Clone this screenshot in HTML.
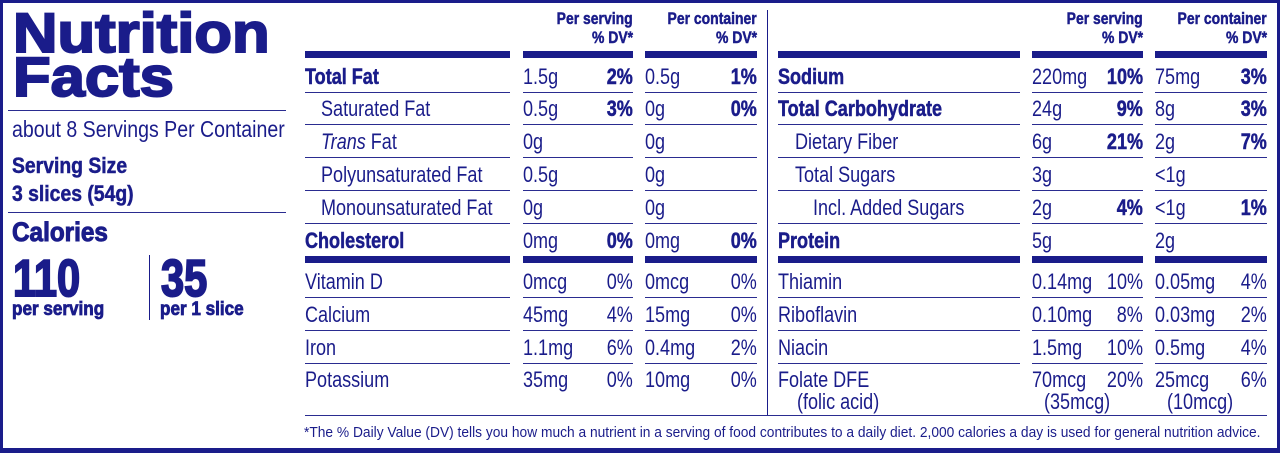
<!DOCTYPE html>
<html><head><meta charset="utf-8">
<style>
*{margin:0;padding:0;box-sizing:border-box}
body{width:1280px;height:453px;overflow:hidden;background:#fff;position:relative;font-family:"Liberation Sans",sans-serif;color:#1a1c8a}
.t{position:absolute;white-space:nowrap;line-height:1;font-size:22px;transform:scaleX(.82);transform-origin:left center}
.r{transform-origin:right center}
.b{font-weight:bold;-webkit-text-stroke:0.5px #1a1c8a}
.h{-webkit-text-stroke:2px #1a1c8a}
.l{position:absolute;height:1px;background:#2a2c90}
.k{position:absolute;height:7px;background:#1a1c8a}
</style></head><body>
<div style="position:absolute;left:0;top:0;width:1280px;height:453px;border:3px solid #1a1c8a;border-bottom-width:5px"></div>

<div class="t b h" style="left:13px;top:5px;font-size:56px;transform:scaleX(1.1)">Nutrition</div>
<div class="t b h" style="left:13px;top:49px;font-size:56px;transform:scaleX(1.1)">Facts</div>
<div class="l" style="left:8px;top:110px;width:278px"></div>
<div class="t" style="left:12px;top:118px;font-size:23px;transform:scaleX(.85)">about 8 Servings Per Container</div>
<div class="t b" style="left:12px;top:155px;font-size:22px;transform:scaleX(.88)">Serving Size</div>
<div class="t b" style="left:12px;top:183px;font-size:22px;transform:scaleX(.88)">3 slices (54g)</div>
<div class="l" style="left:8px;top:212px;width:278px"></div>
<div class="t b" style="left:12px;top:219px;font-size:27px;transform:scaleX(.9);-webkit-text-stroke:1px #1a1c8a">Calories</div>
<div class="t b h" style="left:13px;top:253px;font-size:52px;transform:scaleX(.8)">110</div>
<div class="t b" style="left:12px;top:300px;font-size:19px;transform:scaleX(.9);-webkit-text-stroke:0.8px #1a1c8a">per serving</div>
<div style="position:absolute;left:149px;top:255px;width:1px;height:65px;background:#1a1c8a"></div>
<div class="t b h" style="left:161px;top:253px;font-size:52px;transform:scaleX(.8)">35</div>
<div class="t b" style="left:160px;top:300px;font-size:19px;transform:scaleX(.9);-webkit-text-stroke:0.8px #1a1c8a">per 1 slice</div>

<!-- headers -->
<div class="t b r" style="right:647px;top:10px;font-size:17px">Per serving</div>
<div class="t b r" style="right:647px;top:29px;font-size:17px">% DV*</div>
<div class="t b r" style="right:523px;top:10px;font-size:17px">Per container</div>
<div class="t b r" style="right:523px;top:29px;font-size:17px">% DV*</div>
<div class="t b r" style="right:137px;top:10px;font-size:17px">Per serving</div>
<div class="t b r" style="right:137px;top:29px;font-size:17px">% DV*</div>
<div class="t b r" style="right:13px;top:10px;font-size:17px">Per container</div>
<div class="t b r" style="right:13px;top:29px;font-size:17px">% DV*</div>

<div style="position:absolute;left:767px;top:10px;width:1px;height:405px;background:#1a1c8a"></div>

<!-- thick bars -->
<div class="k" style="left:305px;top:51px;width:205px"></div>
<div class="k" style="left:523px;top:51px;width:110px"></div>
<div class="k" style="left:645px;top:51px;width:112px"></div>
<div class="k" style="left:778px;top:51px;width:242px"></div>
<div class="k" style="left:1032px;top:51px;width:111px"></div>
<div class="k" style="left:1155px;top:51px;width:112px"></div>
<div class="k" style="left:305px;top:256px;width:205px"></div>
<div class="k" style="left:523px;top:256px;width:110px"></div>
<div class="k" style="left:645px;top:256px;width:112px"></div>
<div class="k" style="left:778px;top:256px;width:242px"></div>
<div class="k" style="left:1032px;top:256px;width:111px"></div>
<div class="k" style="left:1155px;top:256px;width:112px"></div>

<!-- thin lines -->
<div class="l" style="left:305px;top:92px;width:205px"></div><div class="l" style="left:523px;top:92px;width:110px"></div><div class="l" style="left:645px;top:92px;width:112px"></div><div class="l" style="left:778px;top:92px;width:242px"></div><div class="l" style="left:1032px;top:92px;width:111px"></div><div class="l" style="left:1155px;top:92px;width:112px"></div>
<div class="l" style="left:305px;top:124px;width:205px"></div><div class="l" style="left:523px;top:124px;width:110px"></div><div class="l" style="left:645px;top:124px;width:112px"></div><div class="l" style="left:778px;top:124px;width:242px"></div><div class="l" style="left:1032px;top:124px;width:111px"></div><div class="l" style="left:1155px;top:124px;width:112px"></div>
<div class="l" style="left:305px;top:157px;width:205px"></div><div class="l" style="left:523px;top:157px;width:110px"></div><div class="l" style="left:645px;top:157px;width:112px"></div><div class="l" style="left:778px;top:157px;width:242px"></div><div class="l" style="left:1032px;top:157px;width:111px"></div><div class="l" style="left:1155px;top:157px;width:112px"></div>
<div class="l" style="left:305px;top:190px;width:205px"></div><div class="l" style="left:523px;top:190px;width:110px"></div><div class="l" style="left:645px;top:190px;width:112px"></div><div class="l" style="left:778px;top:190px;width:242px"></div><div class="l" style="left:1032px;top:190px;width:111px"></div><div class="l" style="left:1155px;top:190px;width:112px"></div>
<div class="l" style="left:305px;top:223px;width:205px"></div><div class="l" style="left:523px;top:223px;width:110px"></div><div class="l" style="left:645px;top:223px;width:112px"></div><div class="l" style="left:778px;top:223px;width:242px"></div><div class="l" style="left:1032px;top:223px;width:111px"></div><div class="l" style="left:1155px;top:223px;width:112px"></div>
<div class="l" style="left:305px;top:297px;width:205px"></div><div class="l" style="left:523px;top:297px;width:110px"></div><div class="l" style="left:645px;top:297px;width:112px"></div><div class="l" style="left:778px;top:297px;width:242px"></div><div class="l" style="left:1032px;top:297px;width:111px"></div><div class="l" style="left:1155px;top:297px;width:112px"></div>
<div class="l" style="left:305px;top:330px;width:205px"></div><div class="l" style="left:523px;top:330px;width:110px"></div><div class="l" style="left:645px;top:330px;width:112px"></div><div class="l" style="left:778px;top:330px;width:242px"></div><div class="l" style="left:1032px;top:330px;width:111px"></div><div class="l" style="left:1155px;top:330px;width:112px"></div>
<div class="l" style="left:305px;top:363px;width:205px"></div><div class="l" style="left:523px;top:363px;width:110px"></div><div class="l" style="left:645px;top:363px;width:112px"></div><div class="l" style="left:778px;top:363px;width:242px"></div><div class="l" style="left:1032px;top:363px;width:111px"></div><div class="l" style="left:1155px;top:363px;width:112px"></div>
<div class="l" style="left:305px;top:415px;width:962px"></div>

<!-- left table -->
<div class="t b" style="left:305px;top:66px">Total Fat</div>
<div class="t" style="left:523px;top:66px">1.5g</div><div class="t b r" style="right:647px;top:66px">2%</div>
<div class="t" style="left:645px;top:66px">0.5g</div><div class="t b r" style="right:523px;top:66px">1%</div>

<div class="t" style="left:321px;top:98px">Saturated Fat</div>
<div class="t" style="left:523px;top:98px">0.5g</div><div class="t b r" style="right:647px;top:98px">3%</div>
<div class="t" style="left:645px;top:98px">0g</div><div class="t b r" style="right:523px;top:98px">0%</div>

<div class="t" style="left:321px;top:131px"><i>Trans</i> Fat</div>
<div class="t" style="left:523px;top:131px">0g</div>
<div class="t" style="left:645px;top:131px">0g</div>

<div class="t" style="left:321px;top:164px">Polyunsaturated Fat</div>
<div class="t" style="left:523px;top:164px">0.5g</div>
<div class="t" style="left:645px;top:164px">0g</div>

<div class="t" style="left:321px;top:197px">Monounsaturated Fat</div>
<div class="t" style="left:523px;top:197px">0g</div>
<div class="t" style="left:645px;top:197px">0g</div>

<div class="t b" style="left:305px;top:230px">Cholesterol</div>
<div class="t" style="left:523px;top:230px">0mg</div><div class="t b r" style="right:647px;top:230px">0%</div>
<div class="t" style="left:645px;top:230px">0mg</div><div class="t b r" style="right:523px;top:230px">0%</div>

<div class="t" style="left:305px;top:271px">Vitamin D</div>
<div class="t" style="left:523px;top:271px">0mcg</div><div class="t r" style="right:647px;top:271px">0%</div>
<div class="t" style="left:645px;top:271px">0mcg</div><div class="t r" style="right:523px;top:271px">0%</div>

<div class="t" style="left:305px;top:304px">Calcium</div>
<div class="t" style="left:523px;top:304px">45mg</div><div class="t r" style="right:647px;top:304px">4%</div>
<div class="t" style="left:645px;top:304px">15mg</div><div class="t r" style="right:523px;top:304px">0%</div>

<div class="t" style="left:305px;top:337px">Iron</div>
<div class="t" style="left:523px;top:337px">1.1mg</div><div class="t r" style="right:647px;top:337px">6%</div>
<div class="t" style="left:645px;top:337px">0.4mg</div><div class="t r" style="right:523px;top:337px">2%</div>

<div class="t" style="left:305px;top:369px">Potassium</div>
<div class="t" style="left:523px;top:369px">35mg</div><div class="t r" style="right:647px;top:369px">0%</div>
<div class="t" style="left:645px;top:369px">10mg</div><div class="t r" style="right:523px;top:369px">0%</div>

<!-- right table -->
<div class="t b" style="left:778px;top:66px">Sodium</div>
<div class="t" style="left:1032px;top:66px">220mg</div><div class="t b r" style="right:137px;top:66px">10%</div>
<div class="t" style="left:1155px;top:66px">75mg</div><div class="t b r" style="right:13px;top:66px">3%</div>

<div class="t b" style="left:778px;top:98px">Total Carbohydrate</div>
<div class="t" style="left:1032px;top:98px">24g</div><div class="t b r" style="right:137px;top:98px">9%</div>
<div class="t" style="left:1155px;top:98px">8g</div><div class="t b r" style="right:13px;top:98px">3%</div>

<div class="t" style="left:795px;top:131px">Dietary Fiber</div>
<div class="t" style="left:1032px;top:131px">6g</div><div class="t b r" style="right:137px;top:131px">21%</div>
<div class="t" style="left:1155px;top:131px">2g</div><div class="t b r" style="right:13px;top:131px">7%</div>

<div class="t" style="left:795px;top:164px">Total Sugars</div>
<div class="t" style="left:1032px;top:164px">3g</div>
<div class="t" style="left:1155px;top:164px">&lt;1g</div>

<div class="t" style="left:813px;top:197px">Incl. Added Sugars</div>
<div class="t" style="left:1032px;top:197px">2g</div><div class="t b r" style="right:137px;top:197px">4%</div>
<div class="t" style="left:1155px;top:197px">&lt;1g</div><div class="t b r" style="right:13px;top:197px">1%</div>

<div class="t b" style="left:778px;top:230px">Protein</div>
<div class="t" style="left:1032px;top:230px">5g</div>
<div class="t" style="left:1155px;top:230px">2g</div>

<div class="t" style="left:778px;top:271px">Thiamin</div>
<div class="t" style="left:1032px;top:271px">0.14mg</div><div class="t r" style="right:137px;top:271px">10%</div>
<div class="t" style="left:1155px;top:271px">0.05mg</div><div class="t r" style="right:13px;top:271px">4%</div>

<div class="t" style="left:778px;top:304px">Riboflavin</div>
<div class="t" style="left:1032px;top:304px">0.10mg</div><div class="t r" style="right:137px;top:304px">8%</div>
<div class="t" style="left:1155px;top:304px">0.03mg</div><div class="t r" style="right:13px;top:304px">2%</div>

<div class="t" style="left:778px;top:337px">Niacin</div>
<div class="t" style="left:1032px;top:337px">1.5mg</div><div class="t r" style="right:137px;top:337px">10%</div>
<div class="t" style="left:1155px;top:337px">0.5mg</div><div class="t r" style="right:13px;top:337px">4%</div>

<div class="t" style="left:778px;top:369px">Folate DFE</div>
<div class="t" style="left:797px;top:391px">(folic acid)</div>
<div class="t" style="left:1032px;top:369px">70mcg</div><div class="t r" style="right:137px;top:369px">20%</div>
<div class="t" style="left:1044px;top:391px">(35mcg)</div>
<div class="t" style="left:1155px;top:369px">25mcg</div><div class="t r" style="right:13px;top:369px">6%</div>
<div class="t" style="left:1167px;top:391px">(10mcg)</div>

<div class="t" style="left:304px;top:425px;font-size:15px;transform:scaleX(.918)">*The % Daily Value (DV) tells you how much a nutrient in a serving of food contributes to a daily diet. 2,000 calories a day is used for general nutrition advice.</div>
</body></html>
